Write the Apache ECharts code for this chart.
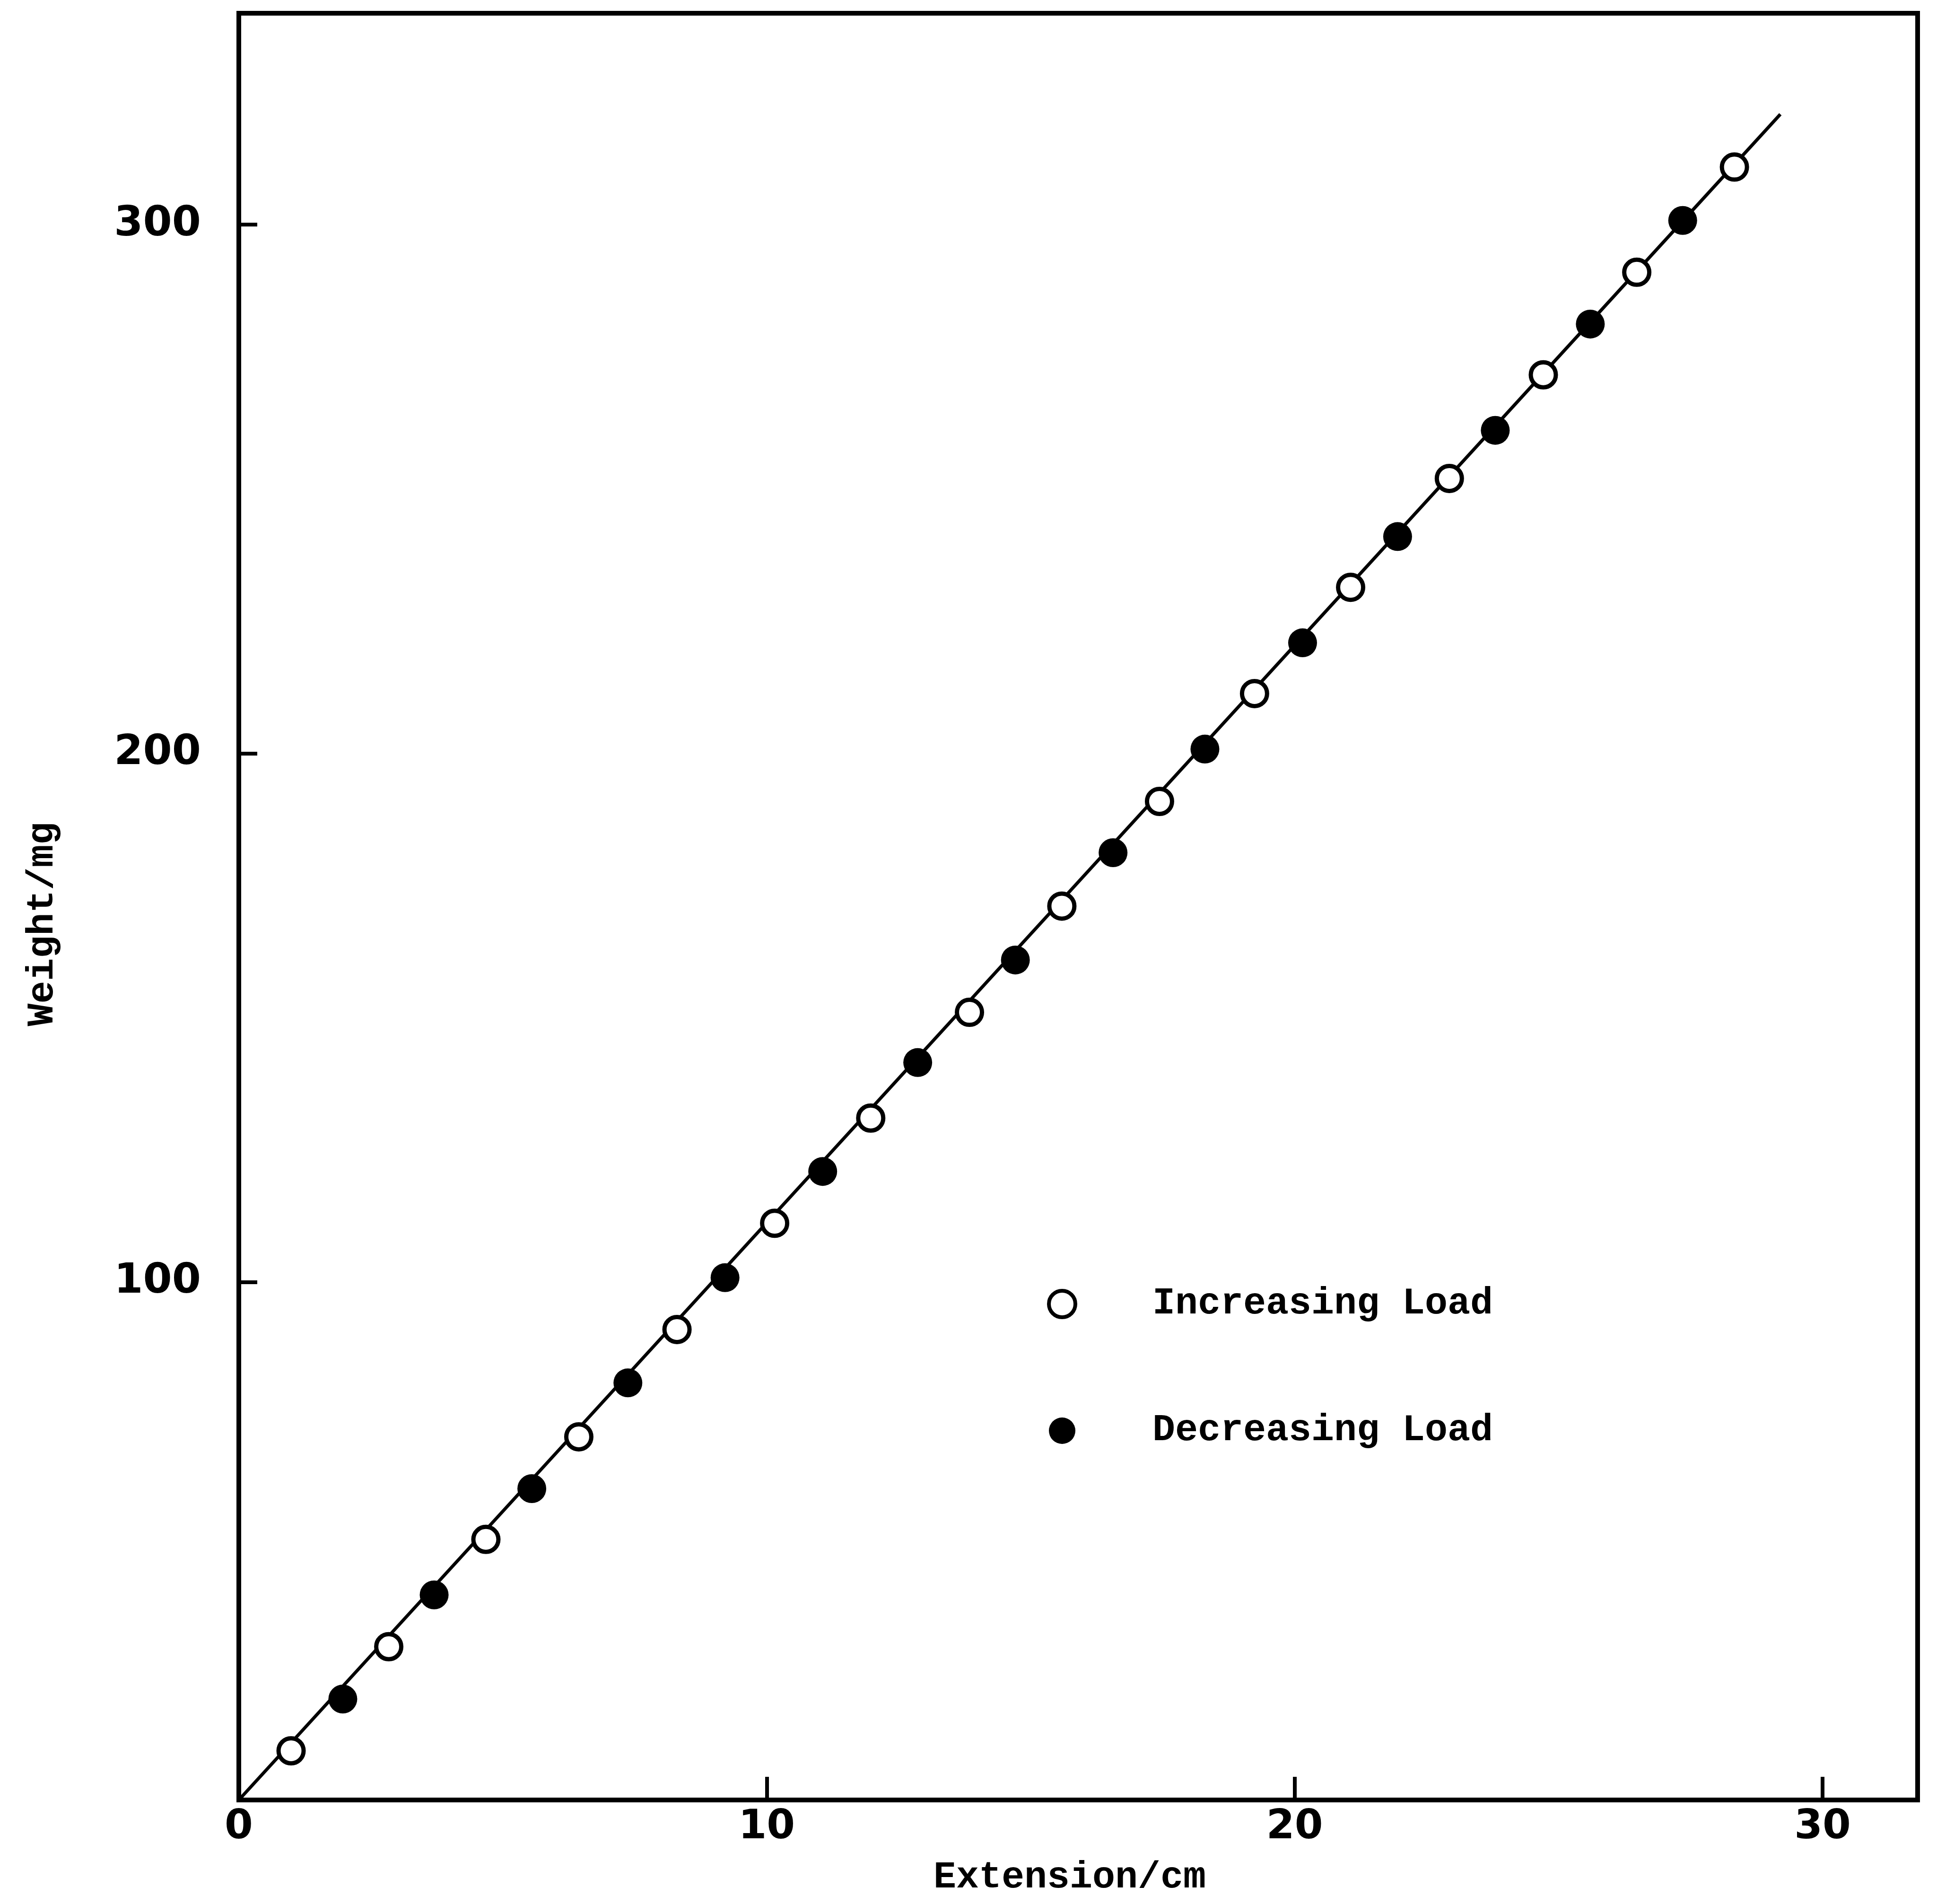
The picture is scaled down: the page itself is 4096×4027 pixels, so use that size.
<!DOCTYPE html>
<html>
<head>
    <meta charset="utf-8">
    <title>Weight / Extension</title>
    <script src="https://cdn.jsdelivr.net/npm/echarts@6.0.0/dist/echarts.min.js"></script>
    <style>
        html, body { margin: 0; background: #fff; }
        #chart { width: 4096px; height: 4027px; }
    </style>
</head>
<body>
<div id="chart"></div>
<script type="text/javascript">
    // values: extension in cm, weight in mg
    var extIncreasing = [0.99, 2.84, 4.68, 6.44, 8.30, 10.15, 11.97, 13.84, 15.59, 17.44, 19.24, 21.06, 22.93, 24.71, 26.48, 28.33];
    var wtIncreasing  = [11.3, 31.0, 51.3, 70.7, 91.0, 111.1, 131.0, 151.0, 171.1, 190.9, 211.3, 231.4, 252.0, 271.6, 291.0, 310.9];

    var extDecreasing = [1.97, 3.70, 5.55, 7.37, 9.21, 11.06, 12.86, 14.71, 16.56, 18.30, 20.15, 21.95, 23.80, 25.60, 27.35];
    var wtDecreasing  = [21.1, 40.8, 60.9, 80.9, 100.8, 120.9, 141.5, 160.9, 181.2, 200.8, 220.9, 241.0, 261.1, 281.2, 300.8];

    // drawn straight line, start and end
    var fitExt = [0, 29.2];
    var fitWt  = [2, 320.9];

    var xTickLabels = [0, 10, 20, 30];
    var yTickLabels = [100, 200, 300];

    function zip(xs, ys) {
        return xs.map(function (x, i) { return [x, ys[i]]; });
    }

    var textFont = 'Liberation Mono';
    var digitFont = 'DejaVu Sans';

    var chart = echarts.init(document.getElementById('chart'));

    chart.setOption({
        backgroundColor: '#fff',
        animation: false,
        grid: {
            left: 505,
            right: 41,
            top: 28,
            bottom: 220,
            show: true,
            borderColor: '#000',
            borderWidth: 10
        },
        legend: {
            orient: 'vertical',
            left: 2209,
            top: 2713,
            itemWidth: 56,
            itemHeight: 56,
            itemGap: 188,
            textStyle: {
                fontFamily: textFont,
                fontWeight: 'bold',
                fontSize: 80,
                lineHeight: 56,
                color: '#000',
                padding: [0, 0, 0, 158]
            },
            data: [
                { name: 'Increasing Load', icon: 'circle', itemStyle: { color: '#fff', borderColor: '#000', borderWidth: 8 } },
                { name: 'Decreasing Load', icon: 'circle', itemStyle: { color: '#000', borderWidth: 0 } }
            ]
        },
        xAxis: {
            type: 'value',
            min: 0,
            max: 31.8,
            name: 'Extension/cm',
            nameLocation: 'middle',
            nameGap: 125,
            nameTextStyle: {
                fontFamily: textFont,
                fontWeight: 'bold',
                fontSize: 80,
                color: '#000',
                padding: [0, 36, 0, 0]
            },
            axisLine: { show: true, onZero: false, lineStyle: { color: '#000', width: 10 } },
            axisTick: {
                show: true,
                inside: true,
                length: 49,
                customValues: [10, 20, 30],
                lineStyle: { color: '#000', width: 8 }
            },
            axisLabel: {
                customValues: xTickLabels,
                margin: 16,
                fontFamily: digitFont,
                fontWeight: 'bold',
                fontSize: 86,
                color: '#000'
            },
            splitLine: { show: false }
        },
        yAxis: {
            type: 'value',
            min: 2,
            max: 340,
            name: 'Weight/mg',
            nameLocation: 'middle',
            nameGap: 374,
            nameTextStyle: {
                fontFamily: textFont,
                fontWeight: 'bold',
                fontSize: 80,
                color: '#000',
                padding: [0, 74, 0, 0]
            },
            axisLine: { show: true, onZero: false, lineStyle: { color: '#000', width: 10 } },
            axisTick: {
                show: true,
                inside: true,
                length: 39,
                customValues: yTickLabels,
                lineStyle: { color: '#000', width: 8 }
            },
            axisLabel: {
                customValues: yTickLabels,
                margin: 80,
                fontFamily: digitFont,
                fontWeight: 'bold',
                fontSize: 88,
                color: '#000'
            },
            splitLine: { show: false }
        },
        series: [
            {
                type: 'line',
                silent: true,
                showSymbol: false,
                data: zip(fitExt, fitWt),
                lineStyle: { color: '#000', width: 7 },
                z: 1
            },
            {
                name: 'Increasing Load',
                type: 'scatter',
                symbol: 'circle',
                symbolSize: 53,
                data: zip(extIncreasing, wtIncreasing),
                itemStyle: { color: '#fff', borderColor: '#000', borderWidth: 9, opacity: 1 },
                z: 3
            },
            {
                name: 'Decreasing Load',
                type: 'scatter',
                symbol: 'circle',
                symbolSize: 61,
                data: zip(extDecreasing, wtDecreasing),
                itemStyle: { color: '#000', opacity: 1 },
                z: 3
            }
        ]
    });
</script>
</body>
</html>
